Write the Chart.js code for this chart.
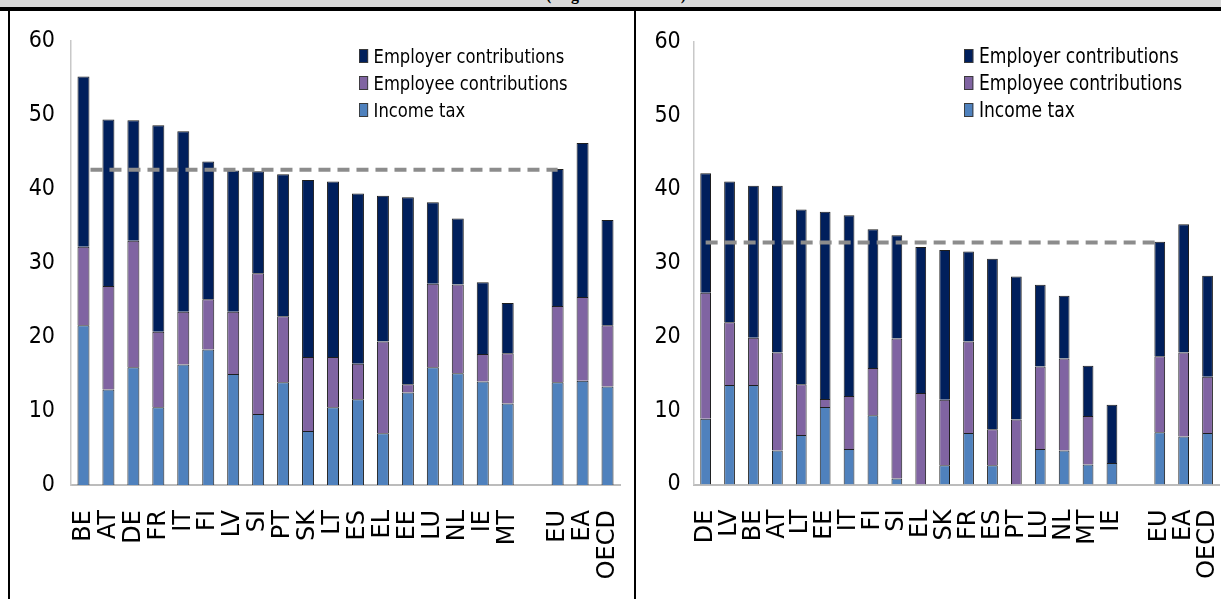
<!DOCTYPE html>
<html>
<head>
<meta charset="utf-8">
<script src="https://cdn.jsdelivr.net/npm/chart.js@4.4.1/dist/chart.umd.min.js"></script>
<style>
  html, body { margin: 0; padding: 0; background: #fff; }
  #page { position: relative; width: 1221px; height: 599px; overflow: hidden; background: #fff; }
  #hdr { position: absolute; left: 0; top: 0; width: 1221px; height: 7px; background: #d9d9d9; overflow: hidden; }
  #hdr span { position: absolute; left: 0; width: 1232px; text-align: center; top: -13px;
    font: bold 16px "Liberation Serif", serif; line-height: 16px; color: #000; }
  .rule { position: absolute; background: #000; }
  .panel { position: absolute; top: 11px; height: 588px; }
  .legend { position: absolute; font-family: "DejaVu Sans Condensed", "DejaVu Sans", sans-serif; color: #000;
    transform-origin: 0 0; }
  .legend .row { display: flex; align-items: center; height: 27px; white-space: nowrap; }
  .legend .box { width: 8px; height: 12px; border: 1px solid #3a3a3a; margin-right: 6px; }
</style>
</head>
<body>
<div id="page">
  <div id="hdr"><span>(single at 100% AW)</span></div>
  <div class="rule" style="left:0; top:7px; width:1221px; height:4px;"></div>
  <div class="rule" style="left:8px; top:11px; width:2px; height:588px;"></div>
  <div class="rule" style="left:634px; top:11px; width:2px; height:588px;"></div>

  <div class="panel" style="left:11px; width:622px;"><canvas id="leftChart" width="622" height="588"></canvas></div>
  <div class="panel" style="left:637px; width:584px;"><canvas id="rightChart" width="584" height="588"></canvas></div>

  <div class="legend" id="leftLegend" style="left:359px; top:42px; font-size:20px; transform:scaleX(0.91);"></div>
  <div class="legend" id="rightLegend" style="left:964px; top:42px; font-size:20.5px; transform:scaleX(0.93);"></div>
</div>

<script>
// series names and colours
const seriesNames = ['Income tax', 'Employee contributions', 'Employer contributions'];
const seriesColors = ['#4f81bd', '#8064a2', '#001f5c'];

// left panel (blank category separates countries from aggregates)
const leftLabels = ['BE', 'AT', 'DE', 'FR', 'IT', 'FI', 'LV', 'SI', 'PT', 'SK', 'LT', 'ES', 'EL', 'EE', 'LU', 'NL', 'IE', 'MT', '', 'EU', 'EA', 'OECD'];
const leftIncomeTax = [21.6, 12.9, 15.9, 10.5, 16.3, 18.3, 15.0, 9.6, 13.9, 7.3, 10.5, 11.6, 7.0, 12.5, 15.9, 15.1, 14.0, 11.0, null, 13.9, 14.1, 13.3];
const leftEmployee = [10.6, 14.0, 17.1, 10.2, 7.1, 6.8, 8.4, 19.0, 8.9, 10.0, 6.8, 4.8, 12.4, 1.1, 11.3, 12.0, 3.7, 6.8, null, 10.3, 11.3, 8.3];
const leftEmployer = [23.0, 22.5, 16.3, 27.9, 24.4, 18.6, 19.1, 13.8, 19.2, 23.9, 23.7, 23.0, 19.7, 25.3, 11.0, 8.9, 9.7, 6.8, null, 18.5, 20.8, 14.2];
const leftEuLine = [42.6, 42.6, 42.6, 42.6, 42.6, 42.6, 42.6, 42.6, 42.6, 42.6, 42.6, 42.6, 42.6, 42.6, 42.6, 42.6, 42.6, 42.6, 42.6, 42.6, null, null];

// right panel
const rightLabels = ['DE', 'LV', 'BE', 'AT', 'LT', 'EE', 'IT', 'FI', 'SI', 'EL', 'SK', 'FR', 'ES', 'PT', 'LU', 'NL', 'MT', 'IE', '', 'EU', 'EA', 'OECD'];
const rightIncomeTax = [8.9, 13.5, 13.5, 4.6, 6.7, 10.5, 4.8, 9.4, 0.8, 0, 2.6, 7.0, 2.6, 0, 4.8, 4.6, 2.7, 2.9, null, 7.1, 6.5, 7.0];
const rightEmployee = [17.1, 8.5, 6.4, 13.3, 6.9, 1.1, 7.2, 6.4, 19.0, 12.4, 8.9, 12.4, 4.9, 8.8, 11.2, 12.5, 6.6, 0, null, 10.3, 11.4, 7.6];
const rightEmployer = [16.2, 19.1, 20.6, 22.6, 23.7, 25.4, 24.5, 18.8, 14.0, 19.8, 20.3, 12.2, 23.1, 19.4, 11.1, 8.5, 6.8, 7.9, null, 15.5, 17.4, 13.7];
const rightEuLine = [32.8, 32.8, 32.8, 32.8, 32.8, 32.8, 32.8, 32.8, 32.8, 32.8, 32.8, 32.8, 32.8, 32.8, 32.8, 32.8, 32.8, 32.8, 32.8, 32.8, null, null];

const yTicks = [0, 10, 20, 30, 40, 50, 60];

function barSet(i, data, pct) {
    return {
        type: 'bar',
        label: seriesNames[i],
        data: data,
        backgroundColor: seriesColors[i],
        borderColor: '#1e1e1e',
        borderWidth: 1,
        barPercentage: pct,
        categoryPercentage: 1,
        stack: 'tax',
        order: 1
    };
}

function buildChart(canvasId, labels, income, employee, employer, euLine, opt) {
    const ctx = document.getElementById(canvasId).getContext('2d');
    return new Chart(ctx, {
        type: 'bar',
        data: {
            labels: labels,
            datasets: [
                barSet(0, income, opt.barPct),
                barSet(1, employee, opt.barPct),
                barSet(2, employer, opt.barPct),
                {
                    type: 'line',
                    label: 'EU',
                    data: euLine,
                    borderColor: '#8c8c8c',
                    borderWidth: 4,
                    borderDash: [12, 7],
                    borderDashOffset: opt.dashOffset,
                    pointRadius: 0,
                    fill: false,
                    stack: 'ref',
                    order: 0
                }
            ]
        },
        options: {
            responsive: false,
            animation: false,
            devicePixelRatio: 1,
            layout: { padding: { top: opt.padTop, right: opt.padRight, left: 0, bottom: 0 } },
            plugins: { legend: { display: false }, tooltip: { enabled: false } },
            scales: {
                x: {
                    stacked: true,
                    grid: { display: false, drawTicks: false },
                    border: { display: true, color: '#bcbcbc', width: 2 },
                    ticks: {
                        autoSkip: false,
                        minRotation: 90,
                        maxRotation: 90,
                        padding: 25,
                        color: '#000',
                        font: { family: '"DejaVu Sans", sans-serif', size: 24 }
                    },
                    afterFit: (scale) => {
                        scale.height = opt.xHeight;
                        scale.paddingLeft = 0;
                        scale.paddingRight = 0;
                    }
                },
                y: {
                    stacked: true,
                    min: 0,
                    max: 60,
                    grid: { display: false, drawTicks: false },
                    border: { display: true, color: '#c8c8c8', width: 1.5 },
                    afterBuildTicks: (scale) => {
                        scale.ticks = yTicks.map(v => ({ value: v }));
                    },
                    ticks: {
                        padding: opt.yPad,
                        color: '#000',
                        font: { family: '"DejaVu Sans Condensed", "DejaVu Sans", sans-serif', size: 23 }
                    },
                    afterFit: (scale) => {
                        scale.width = opt.yWidth;
                        scale.paddingTop = 0;
                        scale.paddingBottom = 0;
                    }
                }
            }
        }
    });
}

function buildLegend(id) {
    const el = document.getElementById(id);
    // listed top-down in reverse stacking order
    for (let i = seriesNames.length - 1; i >= 0; i--) {
        const row = document.createElement('div');
        row.className = 'row';
        const box = document.createElement('span');
        box.className = 'box';
        box.style.background = seriesColors[i];
        const txt = document.createElement('span');
        txt.textContent = seriesNames[i];
        row.appendChild(box);
        row.appendChild(txt);
        el.appendChild(row);
    }
}

buildChart('leftChart', leftLabels, leftIncomeTax, leftEmployee, leftEmployer, leftEuLine,
    { barPct: 0.48, padTop: 30, padRight: 13, xHeight: 114, yWidth: 60, yPad: 16, dashOffset: 12 });
buildChart('rightChart', rightLabels, rightIncomeTax, rightEmployee, rightEmployer, rightEuLine,
    { barPct: 0.45, padTop: 31, padRight: 1.5, xHeight: 114.5, yWidth: 56.7, yPad: 13, dashOffset: 0 });

buildLegend('leftLegend');
buildLegend('rightLegend');
</script>
</body>
</html>
